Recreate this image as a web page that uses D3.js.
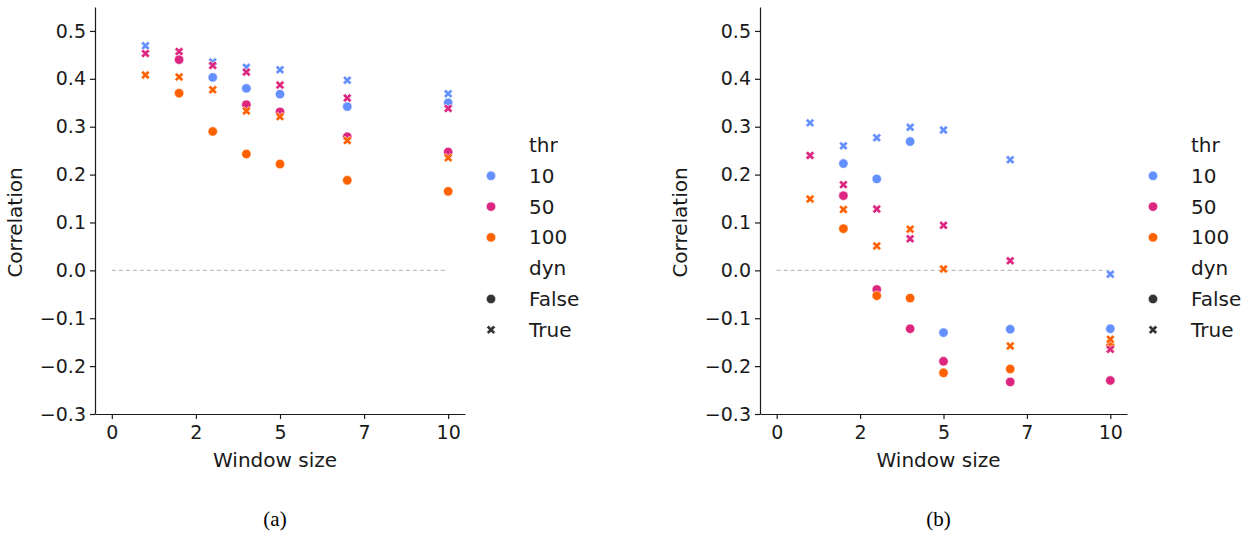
<!DOCTYPE html>
<html>
<head>
<meta charset="utf-8">
<script src="https://cdn.jsdelivr.net/npm/d3@7"></script>
<style>
  body { margin: 0; background: #fff; }
  svg { display: block; }
  .tick text { font-family: "DejaVu Sans", sans-serif; font-size: 19px; fill: #1a1a1a; }
</style>
</head>
<body>
<div class="chart"></div>
<script>
const windows = [1, 2, 3, 4, 5, 7, 10];
const thrLevels = ["10", "50", "100"];
const dynLevels = ["False", "True"];
const xTicks = [0, 2.5, 5, 7.5, 10];
const yTicks = [-0.3, -0.2, -0.1, 0, 0.1, 0.2, 0.3, 0.4, 0.5];

// panel (a)
const a10False = [null, null, 0.403, 0.380, 0.368, 0.342, 0.350];
const a10True = [0.469, null, 0.435, 0.424, 0.419, 0.397, 0.369];
const a50False = [null, 0.440, null, 0.346, 0.331, 0.279, 0.247];
const a50True = [0.453, 0.457, 0.428, 0.414, 0.387, 0.360, 0.338];
const a100False = [null, 0.370, 0.290, 0.243, 0.222, 0.188, 0.165];
const a100True = [0.408, 0.404, 0.377, 0.333, 0.321, 0.271, 0.235];

// panel (b)
const b10False = [null, 0.223, 0.191, 0.269, -0.130, -0.123, -0.122];
const b10True = [0.308, 0.260, 0.277, 0.299, 0.293, 0.231, -0.008];
const b50False = [null, 0.156, -0.040, -0.122, -0.190, -0.233, -0.230];
const b50True = [0.240, 0.179, 0.128, 0.066, 0.094, 0.020, -0.165];
const b100False = [null, 0.087, -0.053, -0.058, -0.214, -0.206, -0.158];
const b100True = [0.149, 0.127, 0.051, 0.086, 0.003, -0.158, -0.144];

const colors = d3.scaleOrdinal().domain(thrLevels).range(["#648FFF", "#DC267F", "#FE6100"]);

const panels = [
  {
    caption: "(a)", left: 95, right: 465,
    series: [
      { thr: "10", dyn: "False", values: a10False },
      { thr: "50", dyn: "False", values: a50False },
      { thr: "100", dyn: "False", values: a100False },
      { thr: "10", dyn: "True", values: a10True },
      { thr: "50", dyn: "True", values: a50True },
      { thr: "100", dyn: "True", values: a100True },
    ],
  },
  {
    caption: "(b)", left: 760, right: 1127,
    series: [
      { thr: "10", dyn: "False", values: b10False },
      { thr: "50", dyn: "False", values: b50False },
      { thr: "100", dyn: "False", values: b100False },
      { thr: "10", dyn: "True", values: b10True },
      { thr: "50", dyn: "True", values: b50True },
      { thr: "100", dyn: "True", values: b100True },
    ],
  },
];

const plotTop = 7;
const plotBottom = 414;
const font = '"DejaVu Sans", sans-serif';
const ink = "#1a1a1a";

const svg = d3
  .select(".chart")
  .append("svg")
  .attr("width", 1254)
  .attr("height", 534);

svg.append("rect").attr("width", 1254).attr("height", 534).attr("fill", "#fff");

const circle = d3.symbol().type(d3.symbolCircle).size(70);
const cross = d3.symbol().type(d3.symbolCross).size(50);

panels.forEach((p) => {
  const x = d3.scaleLinear().domain([-0.5, 10.5]).range([p.left, p.right]);
  const y = d3.scaleLinear().domain([-0.3, 0.55]).range([plotBottom, plotTop]);

  const g = svg.append("g");

  g.append("g")
    .attr("transform", `translate(0,${plotBottom})`)
    .call(
      d3.axisBottom(x)
        .tickValues(xTicks)
        .tickFormat((d) => String(Math.floor(d)))
        .tickSize(5)
        .tickSizeOuter(0)
    )
    .call((ax) => ax.select(".domain").attr("stroke", ink).attr("stroke-width", 1.2))
    .call((ax) => ax.selectAll(".tick line").attr("stroke", ink).attr("stroke-width", 1.2))
    .call((ax) => ax.selectAll(".tick text").attr("dy", "0.9em"));

  g.append("g")
    .attr("transform", `translate(${p.left},0)`)
    .call(
      d3.axisLeft(y)
        .tickValues(yTicks)
        .tickFormat((d) => d3.format(".1f")(d).replace("-", "\u2212"))
        .tickSize(5)
        .tickSizeOuter(0)
    )
    .call((ax) => ax.select(".domain").attr("stroke", ink).attr("stroke-width", 1.2))
    .call((ax) => ax.selectAll(".tick line").attr("stroke", ink).attr("stroke-width", 1.2))
    .call((ax) => ax.selectAll(".tick text").attr("x", -9));

  // zero reference line
  g.append("line")
    .attr("x1", x(0))
    .attr("x2", x(10))
    .attr("y1", y(0))
    .attr("y2", y(0))
    .attr("stroke", "#b0b0b0")
    .attr("stroke-width", 1)
    .attr("stroke-dasharray", "4,3");

  // points
  p.series.forEach((s) => {
    const pts = windows
      .map((w, i) => ({ w, v: s.values[i] }))
      .filter((d) => d.v !== null);

    g.selectAll(null)
      .data(pts)
      .enter()
      .append("path")
      .attr("d", s.dyn === "False" ? circle() : cross())
      .attr("transform", (d) =>
        `translate(${x(d.w)},${y(d.v)})` + (s.dyn === "True" ? " rotate(45)" : "")
      )
      .attr("fill", colors(s.thr))
      .attr("stroke", "#fff")
      .attr("stroke-width", 0.6);
  });

  // axis labels
  g.append("text")
    .attr("x", (p.left + p.right) / 2 - 5)
    .attr("y", 467)
    .attr("text-anchor", "middle")
    .style("font-family", font)
    .style("font-size", "20px")
    .attr("fill", ink)
    .text("Window size");

  g.append("text")
    .attr("transform", `translate(${p.left - 73},${y(0.1)}) rotate(-90)`)
    .attr("text-anchor", "middle")
    .style("font-family", font)
    .style("font-size", "20px")
    .attr("fill", ink)
    .text("Correlation");

  // legend
  const lx = p.right + 26;
  const rows = [
    { label: "thr" },
    ...thrLevels.map((t) => ({ label: t, color: colors(t), dyn: "False" })),
    { label: "dyn" },
    ...dynLevels.map((d) => ({ label: d, color: "#333333", dyn: d })),
  ];
  const leg = g.append("g");
  rows.forEach((r, i) => {
    const ry = 145 + i * 30.8;
    if (r.color) {
      leg.append("path")
        .attr("d", r.dyn === "False" ? circle() : cross())
        .attr("transform", `translate(${lx},${ry})` + (r.dyn === "True" ? " rotate(45)" : ""))
        .attr("fill", r.color)
        .attr("stroke", "#fff")
        .attr("stroke-width", 0.6);
    }
    leg.append("text")
      .attr("x", lx + 38)
      .attr("y", ry)
      .attr("dy", "0.35em")
      .style("font-family", font)
      .style("font-size", "20px")
      .attr("fill", ink)
      .text(r.label);
  });

  // caption
  g.append("text")
    .attr("x", (p.left + p.right) / 2 - 5)
    .attr("y", 526)
    .attr("text-anchor", "middle")
    .style("font-family", '"Liberation Serif", "Times New Roman", serif')
    .style("font-size", "21px")
    .attr("fill", "#000")
    .text(p.caption);
});
</script>
</body>
</html>
